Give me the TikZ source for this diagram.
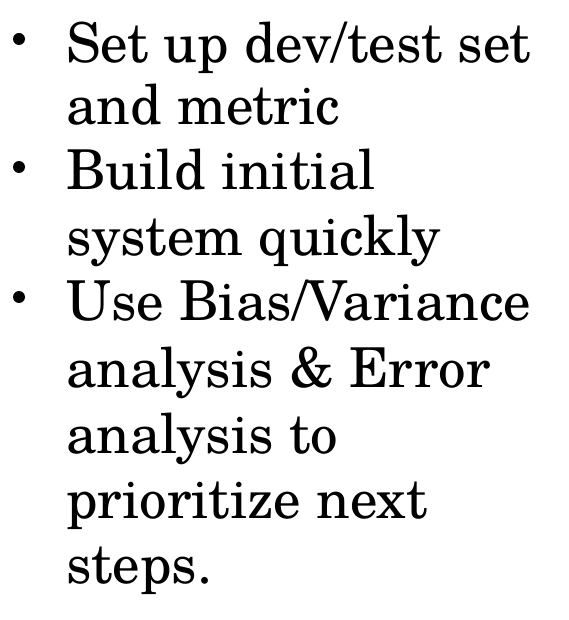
\documentclass[tikz,border=0pt]{standalone}
\usepackage{fontspec}
\setmainfont{TeX Gyre Schola}
\begin{document}
\begin{tikzpicture}[x=1pt,y=-1pt,
  txt/.style={anchor=base west,inner sep=0pt,font=\fontsize{55}{60}\selectfont},
  bul/.style={circle,fill=black,inner sep=0pt,minimum size=12pt}]
\useasboundingbox[fill=white] (0,0) rectangle (568,620);
\node[bul] (b1) at (19,39) {};
\node[bul] (b2) at (19,167) {};
\node[bul] (b3) at (19,297) {};
\node[txt] (l1) at (66,63) {Set up dev/test set};
\node[txt] (l2) at (66,125) {and metric};
\node[txt] (l3) at (66,190) {Build initial};
\node[txt] (l4) at (66,255) {system quickly};
\node[txt] (l5) at (66,320) {Use Bias/Variance};
\node[txt] (l6) at (66,387) {analysis \& Error};
\node[txt] (l7) at (66,453) {analysis to};
\node[txt] (l8) at (66,518) {prioritize next};
\node[txt] (l9) at (66,583) {steps.};
\end{tikzpicture}
\end{document}
